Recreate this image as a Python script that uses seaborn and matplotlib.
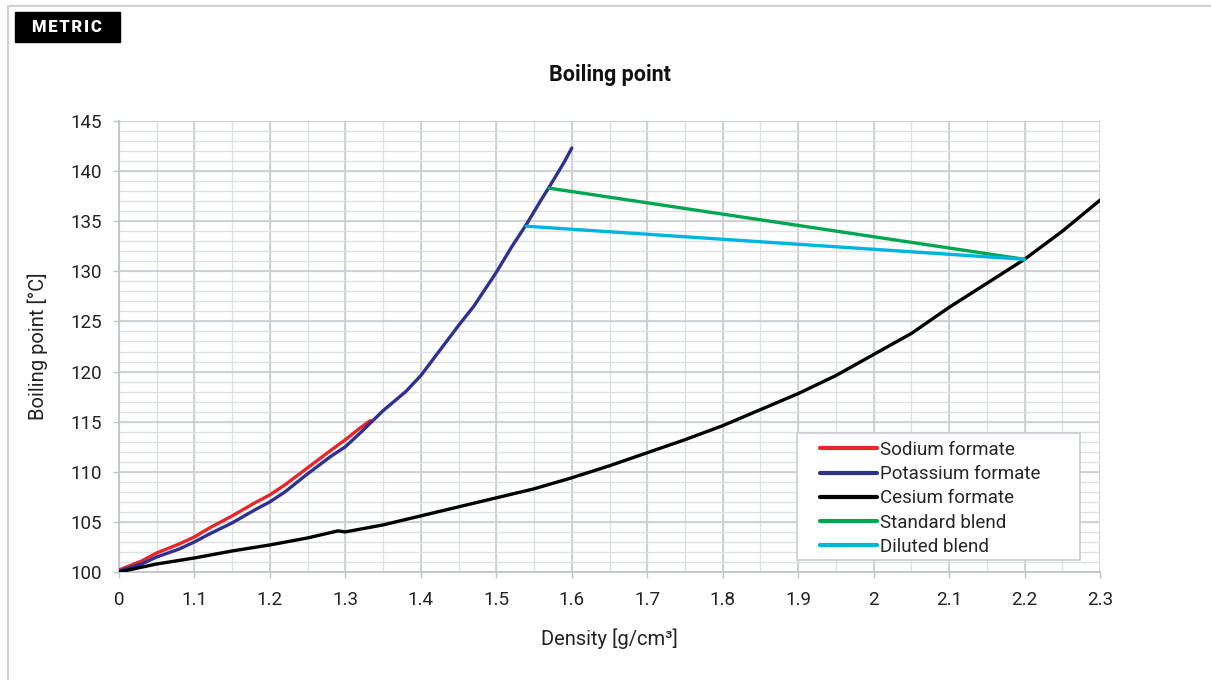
import matplotlib
matplotlib.use("Agg")
import matplotlib.pyplot as plt
import seaborn as sns
import pandas as pd
from matplotlib.patches import Rectangle

# ---- data ----
sodium_x = [1.00, 1.03, 1.05, 1.08, 1.10, 1.12, 1.15, 1.18, 1.20, 1.22, 1.25, 1.28, 1.30, 1.32, 1.333]
sodium_y = [100.2, 101.1, 101.9, 102.8, 103.5, 104.4, 105.6, 106.9, 107.7, 108.7, 110.4, 112.1, 113.2, 114.4, 115.1]

potassium_x = [1.00, 1.03, 1.05, 1.08, 1.10, 1.12, 1.15, 1.18, 1.20, 1.22, 1.25, 1.28, 1.30, 1.32, 1.35,
               1.38, 1.40, 1.42, 1.45, 1.47, 1.50, 1.52, 1.54, 1.56, 1.57, 1.59, 1.60]
potassium_y = [100.1, 100.8, 101.5, 102.3, 103.0, 103.8, 104.9, 106.2, 107.0, 108.0, 109.8, 111.5, 112.5, 113.9, 116.1,
               118.0, 119.6, 121.6, 124.6, 126.5, 129.9, 132.4, 134.7, 137.2, 138.4, 140.9, 142.3]

cesium_x = [1.00, 1.05, 1.10, 1.15, 1.20, 1.25, 1.29, 1.30, 1.35, 1.40, 1.45, 1.50, 1.55, 1.60, 1.65, 1.70,
            1.75, 1.80, 1.85, 1.90, 1.95, 2.00, 2.05, 2.10, 2.15, 2.20, 2.25, 2.30]
cesium_y = [100.0, 100.8, 101.4, 102.1, 102.7, 103.4, 104.1, 104.0, 104.7, 105.6, 106.5, 107.4, 108.3, 109.4, 110.6, 111.9,
            113.2, 114.6, 116.2, 117.8, 119.6, 121.7, 123.8, 126.4, 128.8, 131.2, 134.0, 137.1]

standard_x = [1.57, 2.20]
standard_y = [138.3, 131.2]

diluted_x = [1.54, 2.20]
diluted_y = [134.5, 131.2]

series_names = ["Sodium formate", "Potassium formate", "Cesium formate", "Standard blend", "Diluted blend"]
series_colors = ["#e8262a", "#2e3192", "#000000", "#00a651", "#00b4e0"]

x_ticks = [1.0, 1.1, 1.2, 1.3, 1.4, 1.5, 1.6, 1.7, 1.8, 1.9, 2.0, 2.1, 2.2, 2.3]
x_tick_labels = ["0", "1.1", "1.2", "1.3", "1.4", "1.5", "1.6", "1.7", "1.8", "1.9", "2", "2.1", "2.2", "2.3"]
y_ticks = [100, 105, 110, 115, 120, 125, 130, 135, 140, 145]

# ---- build frame ----
frames = []
for name, xs, ys in zip(series_names,
                        [sodium_x, potassium_x, cesium_x, standard_x, diluted_x],
                        [sodium_y, potassium_y, cesium_y, standard_y, diluted_y]):
    frames.append(pd.DataFrame({"density": xs, "bp": ys, "series": name}))
df = pd.concat(frames, ignore_index=True)

sns.set_theme(style="white")
plt.rcParams["font.family"] = ["Roboto", "DejaVu Sans"]

W, H = 1211, 680
fig = plt.figure(figsize=(12.11, 6.8), dpi=100)
ax = fig.add_axes([119 / W, 1 - 572 / H, 981 / W, 451 / H])

# grid
minor_x = [1.0 + 0.05 * i for i in range(27)]
for xv in minor_x:
    ax.axvline(xv, color="#dde1e4", lw=1.0, zorder=0)
for xv in x_ticks:
    ax.axvline(xv, color="#c9cdd1", lw=1.2, zorder=0)
for yv in range(100, 146):
    ax.axhline(yv, color="#dde1e4", lw=1.0, zorder=0)
for yv in y_ticks:
    ax.axhline(yv, color="#c9cdd1", lw=1.2, zorder=0)

sns.lineplot(data=df, x="density", y="bp", hue="series", hue_order=series_names,
             palette=dict(zip(series_names, series_colors)), sort=False, estimator=None,
             linewidth=2.4, ax=ax, zorder=3)

ax.set_xlim(1.0, 2.3)
ax.set_ylim(100, 145)
ax.set_xticks(x_ticks)
ax.set_xticklabels(x_tick_labels)
ax.set_yticks(y_ticks)
ax.tick_params(axis="both", labelsize=13.5, colors="#222222", length=4, width=1, direction="out",
               bottom=True, left=True)
ax.tick_params(axis="x", pad=10)
ax.tick_params(axis="y", pad=8)
ax.tick_params(axis="both", color="#bfc3c7")
for s in ["top", "right"]:
    ax.spines[s].set_visible(False)
for s in ["left", "bottom"]:
    ax.spines[s].set_color("#bfc3c7")
    ax.spines[s].set_linewidth(1.2)

ax.set_xlabel("Density [g/cm³]", fontsize=14.5, color="#222222", labelpad=14)
ax.set_ylabel("Boiling point [°C]", fontsize=14.5, color="#222222", labelpad=16)
ax.set_title("Boiling point", fontsize=15.5, fontweight="bold", color="#111111", pad=29)

# legend box
ax.add_patch(Rectangle((678 / 981, 12 / 451), 283 / 981, 127 / 451, transform=ax.transAxes,
                       facecolor="white", edgecolor="#c9cdd1", lw=1.2, zorder=4))
leg = ax.legend(loc="upper left", bbox_to_anchor=(701 / 981, 131 / 451), fontsize=13.5, frameon=False,
                handlelength=3.04, handletextpad=0.18, borderpad=0, labelspacing=0.33, borderaxespad=0)
leg.set_zorder(5)
for line in leg.get_lines():
    line.set_linewidth(3)

# card border (left and top)
fig.add_artist(plt.Line2D([8 / W, 8 / W], [0, 1 - 6 / H], color="#ccd0d3", lw=1.5,
                          transform=fig.transFigure))
fig.add_artist(plt.Line2D([8 / W, 1], [1 - 6 / H, 1 - 6 / H], color="#ccd0d3", lw=1.5,
                          transform=fig.transFigure))

# METRIC badge
fig.add_artist(Rectangle((15 / W, 1 - 42 / H), 105 / W, 30 / H, color="black",
                         transform=fig.transFigure))
fig.text(67 / W, 1 - 27 / H, "M E T R I C".replace(" ", "\u200a"), color="white", fontsize=12,
         fontweight="heavy", ha="center", va="center")

fig.savefig("out.png", dpi=100)
